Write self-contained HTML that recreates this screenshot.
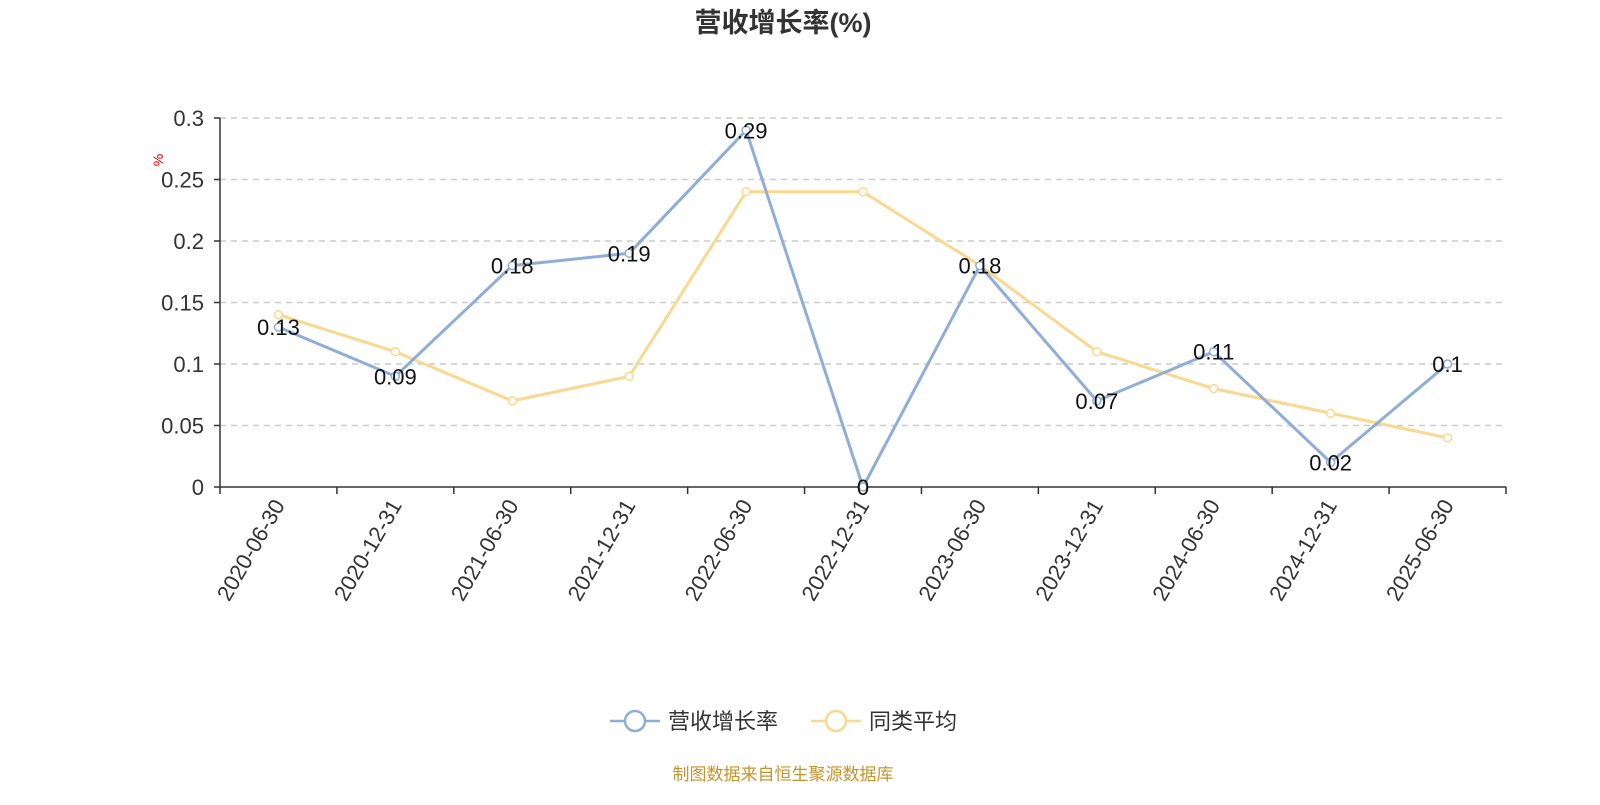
<!DOCTYPE html>
<html><head><meta charset="utf-8"><style>
body{margin:0;background:#fff;}
svg text{font-family:"Liberation Sans","Noto Sans CJK SC",sans-serif;}
</style></head><body>
<svg id="chart" width="1600" height="800" xmlns="http://www.w3.org/2000/svg">
<text x="783" y="32" text-anchor="middle" font-size="27" font-weight="bold" fill="#333">营收增长率(%)</text>
<text x="0" y="0" transform="translate(163,160) rotate(-90)" text-anchor="middle" font-size="14" fill="#e00">%</text>
<g id="grid"></g>
<g id="axes"></g>
<g id="series"></g>
<g>
<g>
<line x1="610" y1="721" x2="660" y2="721" stroke="#8eaed8" stroke-width="2.5"/>
<circle cx="635" cy="721" r="10" fill="#fff" stroke="#8eaed8" stroke-width="2.5"/>
<text x="668" y="729" font-size="22" fill="#333">营收增长率</text></g>
<g>
<line x1="811" y1="721" x2="861" y2="721" stroke="#fbd88f" stroke-width="2.5"/>
<circle cx="836" cy="721" r="10" fill="#fff" stroke="#fbd88f" stroke-width="2.5"/>
<text x="869" y="729" font-size="22" fill="#333">同类平均</text></g>
</g>
<text x="783" y="780" text-anchor="middle" font-size="17" fill="#c8932a">制图数据来自恒生聚源数据库</text>
</svg>
<script>
const categories=["2020-06-30","2020-12-31","2021-06-30","2021-12-31","2022-06-30","2022-12-31","2023-06-30","2023-12-31","2024-06-30","2024-12-31","2025-06-30"];
const revenueGrowth=[0.13,0.09,0.18,0.19,0.29,0,0.18,0.07,0.11,0.02,0.1];
const peerAverage=[0.14,0.11,0.07,0.09,0.24,0.24,0.18,0.11,0.08,0.06,0.04];
const yTicks=[0,0.05,0.1,0.15,0.2,0.25,0.3];
const NS="http://www.w3.org/2000/svg";
const L=220,R=1506,T=118,B=487,yMax=0.3;
const bw=(R-L)/categories.length;
const xS=i=>L+bw*(i+0.5);
const yS=v=>B-(v/yMax)*(B-T);
function mk(tag,attrs,parent){const e=document.createElementNS(NS,tag);for(const k in attrs)e.setAttribute(k,attrs[k]);parent.appendChild(e);return e;}
const grid=document.getElementById('grid'),axes=document.getElementById('axes'),series=document.getElementById('series');
yTicks.forEach(t=>{
  const y=yS(t);
  if(t>0){const g=mk('line',{x1:L,x2:R,y1:y,y2:y,stroke:'#ccc','stroke-width':1.5,'stroke-dasharray':'6,5'},grid);
  
  }
  const tk=mk('line',{x1:L-6,x2:L,y1:y,y2:y,stroke:'#333','stroke-width':1.5},axes);
  
  
  const tx=mk('text',{x:L-16,y:y+8,'text-anchor':'end','font-size':22,fill:'#333'},axes);
  
  
  tx.textContent=String(t);
});
const ya=mk('line',{x1:L,x2:L,y1:T,y2:B,stroke:'#333','stroke-width':1.5},axes);


const xa=mk('line',{x1:L,x2:R,y1:B,y2:B,stroke:'#333','stroke-width':1.5},axes);


for(let i=0;i<=categories.length;i++){
  const x=L+bw*i;
  const tk=mk('line',{x1:x,x2:x,y1:B,y2:B+7,stroke:'#333','stroke-width':1.5},axes);
  
  
}
categories.forEach((c,i)=>{
  const x=xS(i);
  const t=mk('text',{x:0,y:0,transform:`translate(${x+7},${B+18}) rotate(-60)`,'text-anchor':'end','font-size':22,fill:'#333'},axes);
  
  
  t.textContent=c;
});
function drawSeries(vals,color,name,labels){
  const g=mk('g',{},series);
  
  
  const p=mk('polyline',{points:vals.map((v,i)=>xS(i)+','+yS(v)).join(' '),fill:'none',stroke:color,'stroke-width':3,'stroke-linejoin':'round'},g);
  
  
  vals.forEach((v,i)=>{
    const c=mk('circle',{cx:xS(i),cy:yS(v),r:4,fill:'#fff',stroke:color,'stroke-width':1.5},g);
    
    
  });
  if(labels)vals.forEach((v,i)=>{
    const t=mk('text',{x:xS(i),y:yS(v)+8,'text-anchor':'middle','font-size':22,fill:'#111'},g);
    
    
    t.textContent=String(v);
  });
}
drawSeries(peerAverage,'#fbd88f','peer-average',false);
drawSeries(revenueGrowth,'#8eaed8','revenue-growth',true);
</script>
</body></html>
